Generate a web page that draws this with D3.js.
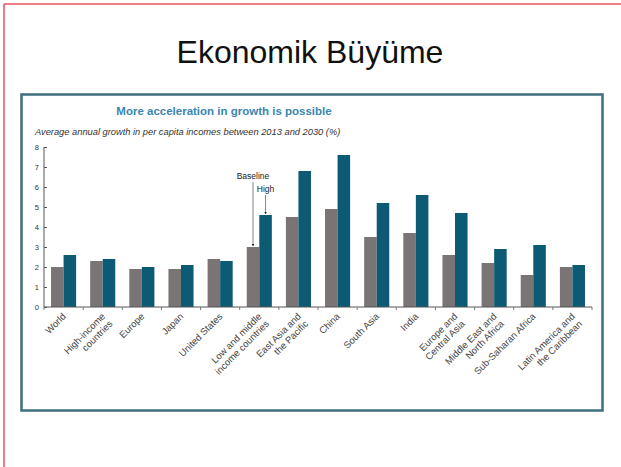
<!DOCTYPE html>
<html><head><meta charset="utf-8">
<script src="https://cdn.jsdelivr.net/npm/d3@7"></script>
<style>body{margin:0;background:#fff;}svg{display:block;}</style>
</head><body>
<script>
const categories = [
  ["World"], ["High-income", "countries"], ["Europe"], ["Japan"], ["United States"],
  ["Low and middle", "income countries"], ["East Asia and", "the Pacific"], ["China"],
  ["South Asia"], ["India"], ["Europe and", "Central Asia"], ["Middle East and", "North Africa"],
  ["Sub-Saharan Africa"], ["Latin America and", "the Caribbean"]
];
const baseline = [2.0, 2.3, 1.9, 1.9, 2.4, 3.0, 4.5, 4.9, 3.5, 3.7, 2.6, 2.2, 1.6, 2.0];
const high     = [2.6, 2.4, 2.0, 2.1, 2.3, 4.6, 6.8, 7.6, 5.2, 5.6, 4.7, 2.9, 3.1, 2.1];
const yTicks = [0, 1, 2, 3, 4, 5, 6, 7, 8];
const seriesNames = ["Baseline", "High"];

const FONT = "Liberation Sans, Arial, sans-serif";
const W = 621, H = 467;
const svg = d3.select("body").append("svg").attr("width", W).attr("height", H);
svg.append("rect").attr("width", W).attr("height", H).attr("fill", "#fff");
// slide border
svg.append("line").attr("x1", 4).attr("x2", 4).attr("y1", 4).attr("y2", H).attr("stroke", "#e8505f").attr("stroke-width", 1.5);
svg.append("line").attr("x1", 4).attr("x2", W).attr("y1", 4).attr("y2", 4).attr("stroke", "#e8505f").attr("stroke-width", 1.5);

svg.append("text").attr("x", 310).attr("y", 63).attr("text-anchor", "middle")
  .attr("font-family", FONT).attr("font-size", 32).attr("fill", "#111")
  .text("Ekonomik Büyüme");

// chart frame
svg.append("rect").attr("x", 21.5).attr("y", 94.5).attr("width", 581).attr("height", 316)
  .attr("fill", "#fff").attr("stroke", "#3d6f7e").attr("stroke-width", 2.5);

svg.append("text").attr("x", 224).attr("y", 115).attr("text-anchor", "middle")
  .attr("font-family", FONT).attr("font-size", 11.5).attr("font-weight", "bold")
  .attr("fill", "#3a86b0").text("More acceleration in growth is possible");
svg.append("text").attr("x", 35).attr("y", 135)
  .attr("font-family", FONT).attr("font-size", 9.3).attr("font-style", "italic")
  .attr("fill", "#333").text("Average annual growth in per capita incomes between 2013 and 2030 (%)");

const x0 = 44, x1 = 592, yTop = 147, yBot = 307;
const x = d3.scaleBand().domain(d3.range(categories.length)).range([x0, x1]).paddingInner(0).paddingOuter(0);
const y = d3.scaleLinear().domain([0, 8]).range([yBot, yTop]);
const xs = d3.scaleBand().domain([0, 1]).range([0, x.bandwidth()]).paddingOuter(0.56).paddingInner(0);
const colors = ["#7a7474", "#0d5a75"];

const g = svg.append("g");
[baseline, high].forEach((vals, s) => {
  g.selectAll(".bar" + s).data(vals).enter().append("rect")
    .attr("x", (d, i) => x(i) + xs(s))
    .attr("width", xs.bandwidth())
    .attr("y", d => y(d))
    .attr("height", d => y(0) - y(d))
    .attr("fill", colors[s]);
});

// y axis
const yAxis = d3.axisRight(y).tickValues(yTicks).tickSize(3).tickFormat(d3.format("d"));
const ya = svg.append("g").attr("transform", `translate(${x0},0)`).call(yAxis);
ya.select(".domain").attr("stroke", "#555").attr("d", `M0,${yTop}V${yBot}`);
ya.selectAll(".tick line").attr("stroke", "#555");
ya.selectAll(".tick text").attr("x", -5).attr("text-anchor", "end")
  .attr("font-family", FONT).attr("font-size", 7.5).attr("fill", "#333");

// x axis baseline with boundary ticks
svg.append("line").attr("x1", x0).attr("x2", x1).attr("y1", yBot).attr("y2", yBot).attr("stroke", "#555");
const bounds = d3.range(categories.length + 1).map(i => i === categories.length ? x1 : x(i));
svg.selectAll(".bt").data(bounds).enter().append("line")
  .attr("x1", d => d).attr("x2", d => d).attr("y1", yBot).attr("y2", yBot + 3).attr("stroke", "#777");

// rotated category labels
const lab = svg.append("g");
categories.forEach((lines, i) => {
  const cx = x(i) + x.bandwidth() / 2 + 1;
  const t = lab.append("text")
    .attr("transform", `translate(${cx},${yBot + 8}) rotate(-45)`)
    .attr("text-anchor", "end")
    .attr("font-family", FONT).attr("font-size", 9.5).attr("fill", "#444");
  lines.forEach((ln, k) => {
    t.append("tspan").attr("x", 0).attr("dy", k === 0 ? "0.3em" : "1.1em").text(ln);
  });
});

// annotation for Low and middle income
const ai = 5;
const bx = x(ai) + xs(0) + xs.bandwidth() / 2;
const hx = x(ai) + xs(1) + xs.bandwidth() / 2;
svg.append("text").attr("x", bx).attr("y", 179).attr("text-anchor", "middle")
  .attr("font-family", FONT).attr("font-size", 8.5).attr("fill", "#222").text(seriesNames[0]);
svg.append("text").attr("x", hx).attr("y", 192).attr("text-anchor", "middle")
  .attr("font-family", FONT).attr("font-size", 8.5).attr("fill", "#222").text(seriesNames[1]);
const defs = svg.append("defs");
defs.append("marker").attr("id", "ah").attr("viewBox", "0 0 6 6").attr("refX", 5).attr("refY", 3)
  .attr("markerWidth", 4).attr("markerHeight", 4).attr("orient", "auto")
  .append("path").attr("d", "M0,0L6,3L0,6Z").attr("fill", "#222");
svg.append("line").attr("x1", bx).attr("x2", bx).attr("y1", 182).attr("y2", y(baseline[ai]) - 1)
  .attr("stroke", "#333").attr("stroke-width", 0.6).attr("marker-end", "url(#ah)");
svg.append("line").attr("x1", hx).attr("x2", hx).attr("y1", 195).attr("y2", y(high[ai]) - 1)
  .attr("stroke", "#333").attr("stroke-width", 0.6).attr("marker-end", "url(#ah)");
</script>
</body></html>
